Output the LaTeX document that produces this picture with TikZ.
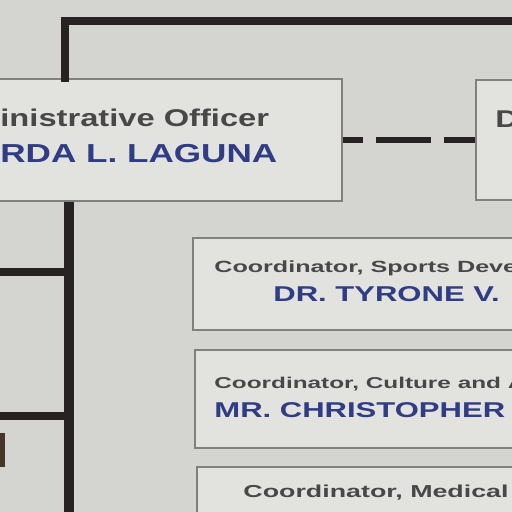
\documentclass[tikz,border=0pt]{standalone}
\usepackage{fontspec}
\setmainfont{Liberation Sans}
\newfontfamily\tfont[FakeStretch=1.55]{Liberation Sans}
\newfontfamily\afont[FakeStretch=1.35]{Liberation Sans}
\newfontfamily\nfont[FakeStretch=1.45]{Liberation Sans}
\definecolor{bg}{RGB}{212,212,209}
\definecolor{paper}{RGB}{226,226,223}
\definecolor{edge}{RGB}{128,128,126}
\definecolor{ink}{RGB}{40,34,34}
\definecolor{ttl}{RGB}{72,72,72}
\definecolor{nm}{RGB}{48,60,132}
\begin{document}
\begin{tikzpicture}[x=0.5pt,y=-0.5pt,
  box/.style={draw=edge,fill=paper,line width=0.7pt,inner sep=0pt},
  lbl/.style={anchor=base west,inner sep=0pt},
  ttlA/.style={lbl,text=ttl,font=\afont\bfseries\fontsize{12.1pt}{13pt}\selectfont},
  nmA/.style={lbl,text=nm,font=\afont\bfseries\fontsize{13pt}{14pt}\selectfont},
  ttlC/.style={lbl,text=ttl,font=\tfont\bfseries\fontsize{8.1pt}{9pt}\selectfont},
  ttlE/.style={lbl,text=ttl,font=\tfont\bfseries\fontsize{7.85pt}{9pt}\selectfont},
  ttlD/.style={lbl,text=ttl,font=\tfont\bfseries\fontsize{8.65pt}{10pt}\selectfont},
  nmC/.style={lbl,text=nm,font=\nfont\bfseries\fontsize{10.7pt}{11pt}\selectfont},
  conn/.style={draw=ink,line cap=rect}
]
\useasboundingbox (0,0) rectangle (512,512);
\fill[bg] (0,0) rectangle (512,512);
\clip (0,0) rectangle (512,512);

% boxes
\node[box,minimum width=176pt,minimum height=61pt] (admin) at (166,140) {};
\node[box,minimum width=27pt,minimum height=60pt] (dbox) at (503,140) {};
\node[box,minimum width=168.5pt,minimum height=46pt] (c1) at (361.5,284) {};
\node[box,minimum width=167.5pt,minimum height=49pt] (c2) at (362.5,399) {};
\node[box,minimum width=166.5pt,minimum height=46.5pt] (c3) at (363.5,513.5) {};

% connectors
\coordinate (tr) at (530,21);
\coordinate (tl) at (65,21);
\coordinate (vb) at (69,530);
\coordinate (b1) at (-10,272);
\coordinate (b2) at (-10,416);
\draw[conn,line width=3.6pt] (tr) -- (tl) -- (tl |- admin.north);
\draw[conn,line width=5pt,line cap=butt] (admin.south -| vb) -- (vb);
\draw[conn,line width=3.6pt,line cap=butt] (b1) -- (b1 -| vb);
\draw[conn,line width=3.6pt,line cap=butt] (b2) -- (b2 -| vb);
\draw[draw=ink,line width=2.6pt,dash pattern=on 27.5pt off 6.5pt,dash phase=17.5pt] (admin.east) -- (dbox.west);
\fill[ink!80!brown] (0,433) rectangle (5,467);

% texts
\node[ttlA] (admt) at (0,127) {inistrative Officer};
\node[nmA] (admn) at (0,163) {RDA L. LAGUNA};
\node[ttlA] (dt) at (495,128) {D};
\node[ttlC] (c1t) at (214,273) {Coordinator, Sports Deve};
\node[nmC] (c1n) at (273,301) {DR. TYRONE V.};
\node[ttlE] (c2t) at (214,388) {Coordinator, Culture and A};
\node[nmC] (c2n) at (214,417) {MR. CHRISTOPHER};
\node[ttlD] (c3t) at (243,497) {Coordinator, Medical};
\end{tikzpicture}
\end{document}
